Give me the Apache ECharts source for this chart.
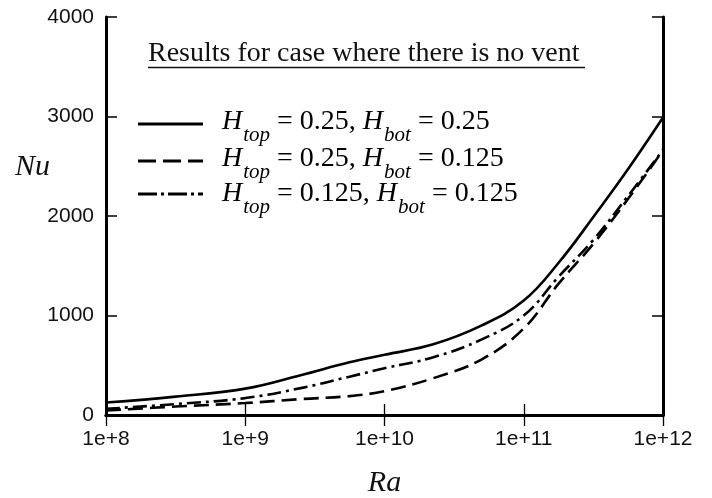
<!DOCTYPE html>
<html>
<head>
<meta charset="utf-8">
<script src="https://cdn.jsdelivr.net/npm/echarts@6/dist/echarts.min.js"></script>
<style>
  html, body { margin: 0; padding: 0; background: #ffffff; }
  #chart { width: 712px; height: 498px; }
</style>
</head>
<body>
<div id="chart"></div>
<script>
// Rayleigh number samples (x)
const ra = [1e8, 3.16e8, 1e9, 2.5e9, 5.6e9, 1e10, 2.24e10, 5e10, 1e11, 1.78e11, 3.16e11, 5.6e11, 1e12];
// Nusselt number for each case
const nuTop025Bot025 = [125, 185, 265, 400, 530, 605, 710, 900, 1150, 1530, 1990, 2470, 2990];
const nuTop025Bot0125 = [45, 85, 120, 160, 190, 240, 370, 560, 870, 1320, 1720, 2170, 2660];
const nuTop0125Bot0125 = [62, 110, 170, 270, 385, 470, 580, 760, 1000, 1390, 1760, 2200, 2665];
// axis ticks
const yTicks = [0, 1000, 2000, 3000, 4000];
const xTickExponents = [8, 9, 10, 11, 12];
const titleText = 'Results for case where there is no vent';
const legendRows = [
  { top: '0.25', bot: '0.25' },
  { top: '0.25', bot: '0.125' },
  { top: '0.125', bot: '0.125' }
];

const serif = '"Liberation Serif", "Times New Roman", serif';
const sans = '"Liberation Sans", Arial, sans-serif';

const chart = echarts.init(document.getElementById('chart'), null, { renderer: 'canvas' });

const lineStyles = [
  { type: 'solid', width: 2.6, legendDash: null },
  { type: [15, 7], width: 2.6, legendDash: [18, 7] },
  { type: [14, 5, 3, 5], width: 2.6, legendDash: [19, 4, 3, 4] }
];
const seriesValues = [nuTop025Bot025, nuTop025Bot0125, nuTop0125Bot0125];

const gridL = 106, gridR = 49, gridT = 17, gridB = 83;

const richStyles = {
  i: { fontFamily: serif, fontStyle: 'italic', fontSize: 28, color: '#111' },
  s: { fontFamily: serif, fontStyle: 'italic', fontSize: 21, color: '#111', padding: [26, 0, 0, 1] },
  n: { fontFamily: serif, fontSize: 28, color: '#111' }
};

const legendLineY = [124, 161, 194];
const legendTextY = [122, 159, 194];
const graphics = [];
// title
graphics.push({
  type: 'text', silent: true, x: 148, y: 54,
  style: { text: titleText, font: '28px ' + serif, fill: '#111', verticalAlign: 'middle', align: 'left' }
});
graphics.push({
  type: 'line', silent: true,
  shape: { x1: 148, y1: 67.5, x2: 585, y2: 67.5 },
  style: { stroke: '#111', lineWidth: 1.4 }
});
legendRows.forEach((row, k) => {
  graphics.push({
    type: 'line', silent: true,
    shape: { x1: 138, y1: legendLineY[k], x2: 203, y2: legendLineY[k] },
    style: { stroke: '#000', lineWidth: 3, lineDash: lineStyles[k].legendDash }
  });
  graphics.push({
    type: 'text', silent: true, x: 222, y: legendTextY[k],
    style: {
      text: '{i|H}{s|top}{n| = ' + row.top + ', }{i|H}{s|bot}{n| = ' + row.bot + '}',
      rich: richStyles, verticalAlign: 'middle', align: 'left'
    }
  });
});
// Nu label
graphics.push({
  type: 'text', silent: true, x: 15, y: 167,
  style: { text: 'Nu', font: 'italic 30px ' + serif, fill: '#111', verticalAlign: 'middle', align: 'left' }
});

const option = {
  backgroundColor: '#ffffff',
  animation: false,
  grid: { left: gridL, right: gridR, top: gridT, bottom: gridB, containLabel: false, outerBoundsMode: 'none' },
  xAxis: [
    {
      type: 'log', logBase: 10, min: Math.pow(10, xTickExponents[0]), max: Math.pow(10, xTickExponents[xTickExponents.length - 1]),
      position: 'bottom',
      name: 'Ra', nameLocation: 'middle', nameGap: 53,
      nameTextStyle: { fontFamily: serif, fontStyle: 'italic', fontSize: 30, color: '#111' },
      axisLine: { show: true, lineStyle: { color: '#000', width: 3 } },
      axisTick: { show: true, inside: true, length: 11, lineStyle: { color: '#000', width: 1.3 } },
      axisLabel: {
        show: true, margin: 14, fontFamily: sans, fontSize: 21, color: '#111',
        formatter: v => '1e+' + Math.round(Math.log10(v))
      },
      splitLine: { show: false }, minorTick: { show: false }
    },
    {
      type: 'log', logBase: 10, min: Math.pow(10, xTickExponents[0]), max: Math.pow(10, xTickExponents[xTickExponents.length - 1]),
      position: 'top',
      axisLine: { show: true, lineStyle: { color: '#000', width: 3 } },
      axisTick: { show: true, inside: true, length: 11, lineStyle: { color: '#000', width: 1.3 } },
      axisLabel: { show: false }, splitLine: { show: false }
    }
  ],
  yAxis: [
    {
      type: 'value', min: yTicks[0], max: yTicks[yTicks.length - 1], interval: yTicks[1] - yTicks[0],
      position: 'left',
      axisLine: { show: true, lineStyle: { color: '#000', width: 3 } },
      axisTick: { show: true, inside: true, length: 11, lineStyle: { color: '#000', width: 1.5 } },
      axisLabel: { show: true, margin: 12, fontFamily: sans, fontSize: 21, color: '#111', formatter: v => String(v) },
      splitLine: { show: false }
    },
    {
      type: 'value', min: yTicks[0], max: yTicks[yTicks.length - 1], interval: yTicks[1] - yTicks[0],
      position: 'right',
      axisLine: { show: true, lineStyle: { color: '#000', width: 3 } },
      axisTick: { show: true, inside: true, length: 11, lineStyle: { color: '#000', width: 1.5 } },
      axisLabel: { show: false }, splitLine: { show: false }
    }
  ],
  series: seriesValues.map((vals, k) => ({
    type: 'line',
    xAxisIndex: 0, yAxisIndex: 0,
    data: ra.map((r, i) => [r, vals[i]]),
    showSymbol: false, symbol: 'none',
    smooth: 0.4,
    clip: true,
    lineStyle: { color: '#000', width: lineStyles[k].width, type: lineStyles[k].type },
    z: 3
  })),
  graphic: graphics
};
chart.setOption(option);
</script>
</body>
</html>
